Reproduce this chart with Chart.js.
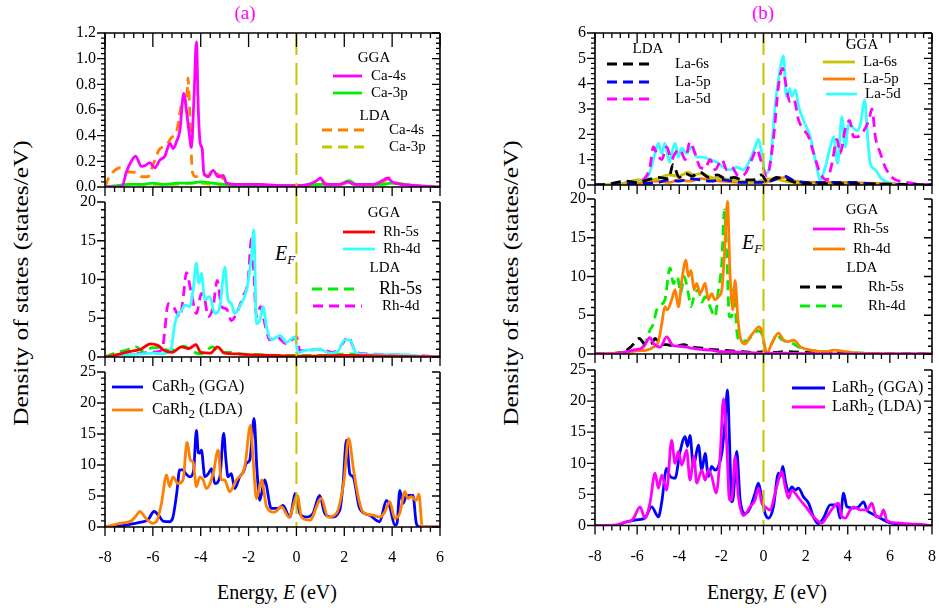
<!DOCTYPE html>
<html>
<head>
<meta charset="utf-8">
<script src="https://cdn.jsdelivr.net/npm/chart.js@4.4.1/dist/chart.umd.min.js"></script>
<style>
body { margin: 0; width: 939px; height: 615px; background: #fff; position: relative; overflow: hidden; font-family: 'Liberation Serif', serif; }
canvas { position: absolute; }
.t { position: absolute; white-space: nowrap; color: #000; transform: translate(-50%, -50%); }
.t sub { font-size: 0.65em; vertical-align: -0.35em; }
.yt { transform: translate(-50%, -50%) rotate(-90deg) scaleX(1.27); }
</style>
</head>
<body>
<div class="t" style="left:245px;top:13px;font-size:19px;color:#ff00ff">(a)</div>
<div class="t" style="left:763px;top:13px;font-size:19px;color:#ff00ff">(b)</div>
<div class="t" style="left:277px;top:592px;font-size:20px">Energy, <i>E</i> (eV)</div>
<div class="t" style="left:767px;top:592px;font-size:20px">Energy, <i>E</i> (eV)</div>
<div class="t yt" style="left:21px;top:283px;font-size:20px">Density of states (states/eV)</div>
<div class="t yt" style="left:511px;top:283px;font-size:20px">Density of states (states/eV)</div>
<div class="t" style="left:285px;top:255px;font-size:20px"><i>E<sub>F</sub></i></div>
<div class="t" style="left:752px;top:244px;font-size:20px"><i>E<sub>F</sub></i></div>
<script>
// tick labels
const energyTicksA = [-8, -6, -4, -2, 0, 2, 4, 6];
const energyTicksB = [-8, -6, -4, -2, 0, 2, 4, 6, 8];
const dosTicksCa = [0, 0.2, 0.4, 0.6, 0.8, 1.0, 1.2];
const dosTicksLa = [0, 1, 2, 3, 4, 5, 6];
const dosTicksRh = [0, 5, 10, 15, 20];
const dosTicksTot = [0, 5, 10, 15, 20, 25];

// (a) CaRh2 : Ca partial DOS
const ca4sGGA = [[-8,0],[-7.3,0],[-7.1,0.12],[-6.9,0.2],[-6.72,0.24],[-6.48,0.16],[-6.3,0.17],[-6.13,0.19],[-5.92,0.15],[-5.71,0.21],[-5.5,0.24],[-5.29,0.34],[-5.15,0.3],[-5.0,0.36],[-4.87,0.44],[-4.71,0.73],[-4.6,0.6],[-4.5,0.45],[-4.39,0.31],[-4.28,0.7],[-4.18,1.13],[-4.1,0.6],[-4.02,0.34],[-3.94,0.3],[-3.87,0.11],[-3.69,0.08],[-3.48,0.13],[-3.27,0.08],[-3.06,0.09],[-2.92,0.03],[-2.4,0.02],[-1.5,0.02],[-0.5,0.01],[0,0.01],[0.5,0.02],[0.85,0.05],[1.0,0.07],[1.2,0.02],[1.8,0.02],[2.15,0.04],[2.4,0.02],[3.2,0.02],[3.6,0.05],[3.8,0.07],[4.0,0.04],[4.4,0.02],[5,0.01],[6,0]];
const ca3pGGA = [[-8,0],[-7.5,0.01],[-7,0.02],[-6.5,0.02],[-6,0.03],[-5.5,0.02],[-5,0.03],[-4.5,0.03],[-4,0.04],[-3.5,0.03],[-3,0.02],[-2.5,0.01],[-1,0.01],[0,0.01],[1,0.02],[1.8,0.02],[2.2,0.05],[2.5,0.02],[3.5,0.02],[4,0.03],[5,0.01],[6,0]];
const ca4sLDA = [[-8,0],[-7.9,0.05],[-7.7,0.11],[-7.35,0.15],[-7.05,0.12],[-6.7,0.11],[-6.45,0.08],[-6.2,0.08],[-6.0,0.17],[-5.7,0.3],[-5.45,0.32],[-5.25,0.38],[-5.0,0.44],[-4.85,0.6],[-4.7,0.7],[-4.6,0.65],[-4.53,0.85],[-4.45,0.55],[-4.35,0.12],[-4.2,0.08],[-4.0,0.1],[-3.7,0.09],[-3.5,0.13],[-3.3,0.1],[-3.1,0.07],[-2.8,0.02],[-1,0.01],[0,0.01],[0.6,0.02],[1.0,0.06],[1.3,0.02],[1.9,0.02],[2.2,0.05],[2.5,0.02],[3.4,0.02],[3.9,0.07],[4.2,0.03],[5,0.01],[6,0]];
const ca3pLDA = [[-8,0],[-7.5,0.01],[-7,0.02],[-6,0.02],[-5,0.02],[-4.5,0.03],[-4,0.03],[-3.5,0.02],[-3,0.02],[-2,0.01],[0,0.01],[1,0.02],[1.9,0.02],[2.2,0.04],[2.5,0.02],[3.5,0.02],[4,0.03],[5,0.01],[6,0]];

// (a) Rh partial DOS
const rh5sGGA_A = [[-8,0],[-7.5,0.3],[-7,0.7],[-6.5,1.0],[-6.1,1.7],[-5.8,1.5],[-5.5,0.8],[-5.2,0.6],[-4.8,1.3],[-4.5,1.1],[-4.2,1.6],[-4.0,0.6],[-3.6,0.5],[-3.3,1.3],[-3.0,0.5],[-2.5,0.4],[-2,0.3],[-1,0.2],[0,0.1],[2,0.2],[4,0.1],[6,0]];
const rh4dGGA_A = [[-8,0],[-7.5,0.2],[-7,0.3],[-6.5,0.4],[-6,0.5],[-5.6,0.4],[-5.43,0.5],[-5.25,0.9],[-5.08,4.3],[-4.94,5.6],[-4.8,6.0],[-4.66,6.7],[-4.46,6.5],[-4.32,8.6],[-4.18,12.1],[-4.08,9.5],[-3.97,10.8],[-3.83,7.4],[-3.62,7.8],[-3.41,5.6],[-3.2,6.5],[-2.99,11.6],[-2.86,7.4],[-2.72,6.9],[-2.58,5.6],[-2.37,6.5],[-2.09,8.6],[-1.88,12.9],[-1.78,16.4],[-1.67,4.3],[-1.53,4.7],[-1.39,6.5],[-1.25,3.9],[-1.04,2.2],[-0.69,2.8],[-0.42,1.9],[-0.07,2.6],[0.07,0.5],[0.3,0.8],[0.56,0.9],[0.97,1.0],[1.39,0.5],[1.75,0.8],[2.02,2.2],[2.23,2.2],[2.5,0.5],[3.2,0.3],[4.5,0.3],[5.2,0.1],[6,0]];
const rh5sLDA_A = [[-8,0],[-7.5,0.6],[-7.1,0.9],[-6.7,1.3],[-6.4,0.7],[-6,1.2],[-5.6,1.1],[-5.3,0.8],[-5,1.0],[-4.7,1.4],[-4.4,0.8],[-4,0.4],[-3.5,1.3],[-3.2,0.6],[-2.8,0.6],[-2.3,0.4],[-1.5,0.3],[-0.5,0.2],[1,0.2],[2.2,0.4],[3,0.2],[6,0]];
const rh4dLDA_A = [[-8,0],[-7.5,0.2],[-7,0.4],[-6.5,0.5],[-6.1,0.6],[-5.8,0.7],[-5.6,1.0],[-5.5,3.5],[-5.36,6.9],[-5.15,6.5],[-4.87,5.2],[-4.72,8.0],[-4.6,10.9],[-4.39,8.2],[-4.18,5.6],[-3.97,8.2],[-3.83,7.4],[-3.69,5.2],[-3.48,6.5],[-3.31,9.9],[-3.13,6.5],[-2.92,6.2],[-2.72,4.7],[-2.51,5.6],[-2.23,7.8],[-2.02,9.9],[-1.88,15.3],[-1.78,10.8],[-1.67,5.2],[-1.5,6.5],[-1.32,4.3],[-1.11,2.2],[-0.83,2.6],[-0.42,1.7],[0,2.6],[0.15,0.8],[0.5,0.9],[1.0,1.0],[1.5,0.6],[1.9,1.6],[2.15,2.6],[2.5,0.6],[3.0,0.4],[4.0,0.3],[5.0,0.2],[6,0]];

// (a) total DOS
const caRh2GGA = [[-8,0],[-7.5,0.1],[-7,0.4],[-6.6,0.7],[-6.2,1.2],[-5.95,2.5],[-5.75,1.8],[-5.55,0.9],[-5.3,0.85],[-5.16,1.6],[-5.0,5.5],[-4.88,9.2],[-4.74,9.2],[-4.6,8.5],[-4.46,8.1],[-4.3,9],[-4.18,15.6],[-4.1,12],[-4.04,11.9],[-3.97,12.4],[-3.83,8.1],[-3.68,8.6],[-3.55,9.4],[-3.41,7.0],[-3.2,8.1],[-3.04,15.1],[-2.95,11],[-2.86,8.1],[-2.72,8.6],[-2.58,6.2],[-2.37,8.1],[-2.2,9.0],[-2.09,10.3],[-1.95,10.8],[-1.77,17.5],[-1.65,9.2],[-1.53,4.3],[-1.33,7.6],[-1.05,3.0],[-0.77,3.0],[-0.56,3.5],[-0.28,1.6],[-0.04,5.4],[0.14,2.2],[0.42,1.6],[0.69,2.2],[0.97,5.1],[1.18,2.2],[1.46,1.6],[1.81,2.7],[1.95,7],[2.09,14.0],[2.23,8.6],[2.37,8.1],[2.64,3.0],[3.06,1.9],[3.48,0.85],[3.76,4.3],[3.9,3.3],[4.11,0.3],[4.2,0.5],[4.32,5.9],[4.46,3.8],[4.6,5.1],[4.87,5.1],[5.01,0.6],[5.15,0],[6,0]];
const caRh2LDA = [[-8,0],[-7.6,0.4],[-7.38,0.6],[-6.9,1.0],[-6.7,1.8],[-6.55,2.5],[-6.27,1.3],[-6.0,0.6],[-5.85,0.85],[-5.64,3.8],[-5.43,8.4],[-5.3,6.5],[-5.16,8.1],[-4.95,7.0],[-4.74,7.6],[-4.57,13.7],[-4.43,10.8],[-4.32,10.5],[-4.18,6.5],[-4.04,8.1],[-3.9,7.6],[-3.76,6.2],[-3.48,8.6],[-3.27,12.4],[-3.14,7.6],[-3.0,7.6],[-2.79,5.7],[-2.51,7.6],[-2.16,9.7],[-1.92,16.4],[-1.81,10.8],[-1.67,4.6],[-1.46,7.6],[-1.25,3.3],[-0.91,2.4],[-0.63,3.3],[-0.31,1.6],[0.04,5.1],[0.21,1.6],[0.56,1.1],[1.04,4.6],[1.32,1.6],[1.67,2.2],[1.99,7.6],[2.18,14.3],[2.39,9.2],[2.57,5.1],[2.78,2.4],[3.2,1.9],[3.48,1.6],[3.69,2.4],[3.9,4.1],[4.11,1.4],[4.32,2.2],[4.53,5.7],[4.66,4.6],[4.8,4.9],[5.01,4.3],[5.12,5.3],[5.26,0],[6,0]];

// (b) LaRh2 : La partial DOS
const la6sLDA = [[-8,0],[-7.5,0.02],[-6.5,0.15],[-6,0.1],[-5.5,0.2],[-5,0.3],[-4.5,0.25],[-4.3,0.8],[-4.0,0.3],[-3.7,0.45],[-3.4,0.35],[-3.0,0.5],[-2.6,0.3],[-2.2,0.4],[-1.8,0.25],[-1.4,0.3],[-1.0,0.2],[-0.5,0.2],[-0.1,0.4],[0.2,0.1],[0.6,0.3],[1.0,0.25],[1.5,0.1],[2,0.05],[4,0.05],[8,0]];
const la5pLDA = [[-8,0],[-7,0],[-6,0.05],[-5,0.1],[-4.5,0.2],[-4,0.15],[-3.5,0.25],[-3,0.2],[-2.5,0.15],[-2,0.2],[-1,0.1],[0,0.1],[0.5,0.2],[1,0.35],[1.5,0.15],[2.5,0.1],[3.5,0.1],[4.5,0.1],[5,0.05],[8,0]];
const la5dLDA = [[-8,0],[-7,0],[-6.5,0.05],[-6,0.1],[-5.6,0.3],[-5.39,0.7],[-5.23,1.5],[-5.07,1.25],[-4.83,1.0],[-4.6,1.5],[-4.36,1.0],[-4.2,1.25],[-3.96,1.4],[-3.72,1.0],[-3.49,1.7],[-3.25,1.25],[-3.01,0.7],[-2.77,0.65],[-2.54,1.0],[-2.3,0.6],[-1.98,1.0],[-1.74,0.6],[-1.51,0.7],[-1.19,0.35],[-0.87,0.45],[-0.56,1.0],[-0.32,1.4],[-0.08,0.85],[0.16,0.35],[0.48,1.9],[0.71,3.9],[0.9,4.6],[1.08,3.9],[1.24,3.3],[1.43,3.4],[1.67,2.55],[1.9,2.2],[2.14,1.9],[2.38,1.25],[2.7,0.45],[3.01,0.2],[3.25,0.85],[3.49,1.8],[3.64,1.25],[3.88,2.2],[4.09,2.55],[4.28,1.9],[4.44,1.9],[4.68,2.05],[5.0,2.55],[5.15,3.0],[5.31,1.9],[5.55,1.25],[5.78,0.7],[6.1,0.3],[6.8,0.1],[8,0]];
const la6sGGA = [[-8,0],[-7,0.02],[-6.5,0.1],[-6,0.2],[-5.5,0.2],[-5,0.25],[-4.5,0.4],[-4.0,0.35],[-3.6,0.5],[-3.3,0.4],[-3,0.45],[-2.5,0.3],[-2,0.25],[-1.5,0.2],[-1,0.15],[-0.5,0.1],[0,0.2],[0.5,0.25],[1,0.15],[2,0.05],[8,0]];
const la5pGGA = [[-8,0],[-7,0],[-6,0.05],[-5,0.15],[-4.5,0.1],[-4,0.2],[-3.5,0.15],[-3,0.25],[-2.5,0.2],[-2,0.15],[-1,0.1],[0,0.1],[0.5,0.2],[1,0.3],[1.5,0.15],[2.5,0.1],[3.5,0.1],[4.5,0.08],[8,0]];
const la5dGGA = [[-8,0],[-7,0],[-6.5,0.05],[-6,0.1],[-5.6,0.2],[-5.4,0.5],[-5.15,1.25],[-4.99,1.65],[-4.83,1.25],[-4.68,1.65],[-4.47,0.9],[-4.36,1.25],[-4.2,1.65],[-4.04,1.1],[-3.88,1.45],[-3.65,1.25],[-3.41,1.5],[-3.17,1.1],[-2.85,1.1],[-2.54,1.0],[-2.22,0.9],[-1.9,0.7],[-1.59,0.6],[-1.27,0.7],[-0.95,0.6],[-0.64,1.0],[-0.4,1.5],[-0.24,1.8],[-0.08,1.25],[0.08,0.45],[0.32,0.85],[0.56,3.2],[0.71,4.15],[0.95,5.1],[1.08,3.5],[1.24,3.8],[1.35,3.5],[1.51,3.75],[1.67,3.1],[1.9,2.55],[2.22,1.9],[2.46,1.0],[2.7,0.2],[2.93,0.7],[3.17,1.5],[3.33,1.9],[3.52,0.85],[3.72,2.7],[3.88,1.5],[4.04,2.4],[4.2,2.3],[4.44,2.15],[4.6,2.4],[4.8,3.35],[4.96,1.7],[5.07,0.85],[5.31,0.6],[5.55,0.3],[6.18,0.05],[8,0]];

// (b) Rh partial DOS
const rh5sGGA_B = [[-8,0],[-7,0.05],[-6.5,0.3],[-6.2,0.5],[-5.7,0.9],[-5.4,2.1],[-5.2,1.3],[-4.9,0.9],[-4.6,2.2],[-4.3,1.1],[-4.0,1.0],[-3.5,0.8],[-3.0,0.6],[-2.5,0.5],[-2,0.3],[-1.5,0.3],[-1,0.2],[0,0.1],[1,0.1],[2,0.05],[4,0],[8,0]];
const rh4dGGA_B = [[-8,0],[-7,0.1],[-6.5,0.2],[-6,0.4],[-5.55,0.5],[-5.23,0.9],[-4.99,1.6],[-4.83,3.9],[-4.68,6.1],[-4.57,5.7],[-4.36,7.0],[-4.2,8.3],[-4.04,6.1],[-3.88,9.5],[-3.68,12.1],[-3.57,10.0],[-3.44,10.8],[-3.3,8.3],[-3.17,9.1],[-3.01,7.8],[-2.77,9.1],[-2.62,7.0],[-2.46,7.8],[-2.3,7.0],[-2.14,7.4],[-1.98,8.3],[-1.86,12.6],[-1.71,19.7],[-1.59,10.4],[-1.46,5.7],[-1.35,9.5],[-1.22,4.8],[-1.11,2.2],[-0.87,1.3],[-0.64,2.2],[-0.4,3.0],[-0.24,3.5],[-0.08,3.0],[0.0,1.8],[0.16,0.1],[0.4,1.4],[0.71,2.7],[0.95,1.8],[1.19,1.6],[1.43,1.8],[1.74,0.95],[2.22,0.5],[3.01,0.3],[3.33,0.5],[3.96,0.3],[4.6,0.1],[8,0]];
const rh5sLDA_B = [[-8,0],[-7,0.1],[-6.5,0.5],[-6.2,1.2],[-5.9,2.0],[-5.6,1.2],[-5.3,1.4],[-5.15,2.0],[-4.9,1.3],[-4.6,1.2],[-4.2,1.0],[-3.8,1.2],[-3.4,0.9],[-3,0.8],[-2.5,0.6],[-2,0.5],[-1.5,0.4],[-1,0.3],[-0.5,0.2],[0,0.3],[0.5,0.2],[1,0.3],[2,0.2],[3,0.1],[4,0.1],[5,0],[8,0]];
const rh4dLDA_B = [[-8,0],[-6.5,0.2],[-6,0.6],[-5.63,1.3],[-5.39,3.1],[-5.23,3.9],[-5.07,5.7],[-4.91,6.3],[-4.68,7.0],[-4.44,11.1],[-4.28,9.1],[-4.09,10.0],[-3.93,7.8],[-3.77,10.0],[-3.57,7.8],[-3.44,6.1],[-3.3,7.4],[-3.09,8.3],[-2.93,6.7],[-2.77,7.4],[-2.54,6.1],[-2.3,4.8],[-2.14,8.3],[-1.98,11.7],[-1.86,18.6],[-1.74,12.6],[-1.62,4.8],[-1.51,4.8],[-1.4,8.7],[-1.27,3.0],[-1.11,1.7],[-0.79,1.7],[-0.48,2.6],[-0.24,3.0],[-0.08,2.6],[0.1,0.5],[0.4,1.4],[0.65,2.6],[0.8,2.0],[1.0,1.7],[1.3,1.5],[1.6,1.0],[2.0,0.6],[2.5,0.4],[3,0.3],[4,0.2],[5,0.1],[6,0],[8,0]];

// (b) total DOS
const laRh2GGA = [[-8,0],[-7,0],[-6.5,0.6],[-6.02,0.9],[-5.63,1.2],[-5.31,3.0],[-4.99,1.4],[-4.83,3.8],[-4.6,9.2],[-4.44,7.9],[-4.2,7.6],[-3.96,11.9],[-3.72,14.3],[-3.61,12.7],[-3.49,14.5],[-3.33,9.5],[-3.09,12.9],[-2.93,8.9],[-2.77,11.6],[-2.62,7.9],[-2.46,9.5],[-2.3,8.9],[-2.14,9.5],[-1.98,11.6],[-1.82,17.0],[-1.71,21.8],[-1.62,14.3],[-1.51,3.8],[-1.43,4.6],[-1.27,11.9],[-1.11,4.1],[-0.87,1.9],[-0.64,2.8],[-0.4,5.2],[-0.24,6.8],[-0.08,4.4],[0.08,1.9],[0.24,1.2],[0.47,3.0],[0.71,8.4],[0.79,7.9],[0.92,9.5],[1.03,7.3],[1.19,5.4],[1.35,6.2],[1.5,5.7],[1.66,6.0],[1.9,4.6],[2.14,3.6],[2.37,1.4],[2.61,0.3],[2.85,1.2],[3.17,3.3],[3.48,3.3],[3.64,1.2],[3.8,5.2],[3.96,3.0],[4.28,2.8],[4.51,3.0],[4.75,3.8],[4.91,2.5],[5.15,1.9],[5.54,1.2],[6.02,0.4],[6.97,0.1],[7.76,0],[8,0]];
const laRh2LDA = [[-8,0],[-7,0.1],[-6.6,0.5],[-6.2,1.0],[-5.86,3.0],[-5.63,1.2],[-5.39,3.6],[-5.15,8.4],[-4.99,6.0],[-4.83,8.1],[-4.6,5.7],[-4.36,13.7],[-4.2,10.0],[-4.04,11.9],[-3.88,9.7],[-3.65,12.1],[-3.49,7.3],[-3.3,11.1],[-3.17,6.8],[-2.93,8.9],[-2.77,7.3],[-2.62,8.9],[-2.46,7.9],[-2.25,5.2],[-2.06,11.1],[-1.9,20.4],[-1.74,12.7],[-1.62,4.1],[-1.51,4.1],[-1.35,11.1],[-1.19,4.6],[-0.95,1.6],[-0.64,3.0],[-0.4,4.1],[-0.24,6.0],[-0.08,3.6],[0.08,3.0],[0.32,2.5],[0.55,5.2],[0.71,7.3],[0.87,8.7],[1.03,6.2],[1.19,4.4],[1.35,5.7],[1.5,5.2],[1.74,4.1],[2.06,2.8],[2.37,1.4],[2.77,0.4],[3.01,1.4],[3.33,3.0],[3.56,3.6],[3.72,1.4],[3.88,1.2],[4.12,2.5],[4.28,3.0],[4.59,2.5],[4.91,2.5],[5.15,3.6],[5.35,1.4],[5.54,1.4],[5.7,2.5],[5.86,0.8],[6.34,0.4],[7.29,0.2],[8,0]];

const C = { magenta: '#ff00ff', green: '#00ee00', orange: '#ff8000', olive: '#c4c400', red: '#ff0000', cyan: '#33ffff', blue: '#0000ff', black: '#000000' };
const fermiColor = '#c8c400';

function line(label, data, color, dashed) {
  return { label, data, borderColor: color, borderWidth: 2.8, borderDash: dashed ? [10, 6] : [],
    pointRadius: 0, cubicInterpolationMode: 'monotone', fill: false };
}

const dosFrame = {
  id: 'dosFrame',
  afterDatasetsDraw(chart, args, o) {
    const ctx = chart.ctx, a = chart.chartArea, xs = chart.scales.x, ys = chart.scales.y;
    ctx.save();
    // Fermi level
    const xf = xs.getPixelForValue(0);
    ctx.strokeStyle = fermiColor; ctx.lineWidth = 2; ctx.setLineDash([22, 8]);
    ctx.beginPath(); ctx.moveTo(xf, a.top); ctx.lineTo(xf, a.bottom + o.gapBelow); ctx.stroke();
    ctx.setLineDash([]);
    // frame
    ctx.strokeStyle = '#000'; ctx.lineWidth = 1.6;
    ctx.beginPath();
    if (o.topAxis) { ctx.moveTo(a.right, a.top); ctx.lineTo(a.left, a.top); } else ctx.moveTo(a.left, a.top);
    ctx.lineTo(a.left, a.bottom); ctx.lineTo(a.right, a.bottom); ctx.lineTo(a.right, a.top);
    ctx.stroke();
    // ticks
    ctx.lineWidth = 1.3;
    ctx.beginPath();
    const nx = Math.round((xs.max - xs.min) / o.xMinor);
    for (let i = 0; i <= nx; i++) {
      const v = xs.min + i * o.xMinor, px = xs.getPixelForValue(v);
      const major = Math.abs(v / 2 - Math.round(v / 2)) < 1e-6;
      const len = major ? 9 : 5;
      ctx.moveTo(px, a.bottom); ctx.lineTo(px, a.bottom + len);
      if (o.topAxis) { ctx.moveTo(px, a.top); ctx.lineTo(px, a.top + (major ? o.topMajor : 5)); }
    }
    const ny = Math.round((ys.max - ys.min) / o.yMinor);
    for (let i = 0; i <= ny; i++) {
      const v = ys.min + i * o.yMinor, py = ys.getPixelForValue(v);
      const len = Math.abs(v / o.yMajor - Math.round(v / o.yMajor)) < 1e-6 ? 8 : 4;
      ctx.moveTo(a.left, py); ctx.lineTo(a.left - len, py);
      ctx.moveTo(a.right, py); ctx.lineTo(a.right - len, py);
    }
    ctx.stroke();
    // tick labels
    ctx.fillStyle = '#000';
    ctx.font = '16px "Liberation Serif"';
    ctx.textAlign = 'right'; ctx.textBaseline = 'middle';
    o.yLabels.forEach(v => ctx.fillText(v.toFixed(o.yDec), a.left - 9, ys.getPixelForValue(v)));
    if (o.xLabels) {
      ctx.textAlign = 'center';
      o.xLabels.forEach(v => ctx.fillText(String(v), xs.getPixelForValue(v), a.bottom + 31));
    }
    // legend
    const ds = chart.data.datasets;
    o.legend.forEach(it => {
      const x0 = o.offX, y0 = o.offY;
      ctx.textBaseline = 'middle';
      if (it.head) {
        ctx.font = '15px "Liberation Serif"'; ctx.textAlign = 'center';
        ctx.fillText(it.head, it.x - x0, it.y - y0);
        return;
      }
      const d = ds[it.ds];
      ctx.strokeStyle = d.borderColor; ctx.lineWidth = d.borderWidth; ctx.setLineDash(d.borderDash);
      ctx.beginPath(); ctx.moveTo(it.x1 - x0, it.y - y0); ctx.lineTo(it.x2 - x0, it.y - y0); ctx.stroke();
      ctx.setLineDash([]);
      const size = it.size || 15;
      ctx.textAlign = 'left';
      let tx = it.tx - x0;
      d.label.split(/(_\d)/).forEach(part => {
        if (part.startsWith('_')) {
          ctx.font = Math.round(size * 0.8) + 'px "Liberation Serif"';
          ctx.fillText(part.slice(1), tx, it.y - y0 + size * 0.3);
          tx += ctx.measureText(part.slice(1)).width;
        } else {
          ctx.font = size + 'px "Liberation Serif"';
          ctx.fillText(part, tx, it.y - y0);
          tx += ctx.measureText(part).width;
        }
      });
    });
    ctx.restore();
  }
};

function makePlot(box, xr, yr, datasets, frame) {
  const padL = 100, padT = 10, padR = 12, padB = frame.xLabels ? 48 : 18;
  const cv = document.createElement('canvas');
  cv.width = Math.round(box.w + padL + padR);
  cv.height = Math.round(box.h + padT + padB);
  const left = box.l - padL, top = box.t - padT;
  cv.style.left = left + 'px'; cv.style.top = top + 'px';
  document.body.appendChild(cv);
  frame.offX = left; frame.offY = top;
  new Chart(cv, {
    type: 'line',
    data: { datasets },
    options: {
      responsive: false, animation: false, devicePixelRatio: 1,
      layout: { padding: { left: padL, top: padT, right: cv.width - padL - box.w, bottom: cv.height - padT - box.h } },
      scales: {
        x: { type: 'linear', min: xr[0], max: xr[1], display: false },
        y: { type: 'linear', min: yr[0], max: yr[1], display: false }
      },
      plugins: { legend: { display: false }, tooltip: { enabled: false }, dosFrame: frame }
    },
    plugins: [dosFrame]
  });
}

Chart.defaults.font.family = 'Liberation Serif';

// ---- panel (a)
makePlot({ l: 105, t: 33, w: 335, h: 154 }, [-8, 6], [0, 1.2], [
  line('Ca-4s', ca4sGGA, C.magenta),
  line('Ca-3p', ca3pGGA, C.green),
  line('Ca-4s', ca4sLDA, C.orange, true),
  line('Ca-3p', ca3pLDA, C.olive, true)
], { topAxis: true, topMajor: 14, gapBelow: 15, xMinor: 0.4, yMinor: 0.04, yMajor: 0.2, yLabels: dosTicksCa, yDec: 1,
  legend: [
    { head: 'GGA', x: 374, y: 58 },
    { ds: 0, x1: 333, x2: 362, y: 76, tx: 371 },
    { ds: 1, x1: 333, x2: 362, y: 93, tx: 371 },
    { head: 'LDA', x: 375, y: 116 },
    { ds: 2, x1: 322, x2: 368, y: 130, tx: 389 },
    { ds: 3, x1: 322, x2: 368, y: 147, tx: 389 }
  ] });

makePlot({ l: 105, t: 202, w: 335, h: 155 }, [-8, 6], [0, 20], [
  line('Rh-5s', rh5sGGA_A, C.red),
  line('Rh-4d', rh4dGGA_A, C.cyan),
  line('Rh-5s', rh5sLDA_A, C.green, true),
  line('Rh-4d', rh4dLDA_A, C.magenta, true)
], { topAxis: false, gapBelow: 15, xMinor: 0.4, yMinor: 1, yMajor: 5, yLabels: dosTicksRh, yDec: 0,
  legend: [
    { head: 'GGA', x: 384, y: 213 },
    { ds: 0, x1: 343, x2: 375, y: 232, tx: 383 },
    { ds: 1, x1: 343, x2: 375, y: 249, tx: 383 },
    { head: 'LDA', x: 385, y: 268 },
    { ds: 2, x1: 312, x2: 360, y: 289, tx: 379, size: 18 },
    { ds: 3, x1: 313, x2: 362, y: 306, tx: 382 }
  ] });

makePlot({ l: 105, t: 372, w: 335, h: 155 }, [-8, 6], [0, 25], [
  line('CaRh_2 (LDA)', caRh2LDA, C.orange),
  line('CaRh_2 (GGA)', caRh2GGA, C.blue)
], { topAxis: false, gapBelow: 0, xMinor: 0.4, yMinor: 1, yMajor: 5, yLabels: dosTicksTot, yDec: 0, xLabels: energyTicksA,
  legend: [
    { ds: 1, x1: 112, x2: 143, y: 387, tx: 152, size: 16 },
    { ds: 0, x1: 112, x2: 143, y: 410, tx: 152, size: 16 }
  ] });

// ---- panel (b)
makePlot({ l: 595, t: 33, w: 337, h: 152 }, [-8, 8], [0, 6], [
  line('La-6s', la6sLDA, C.black, true),
  line('La-5p', la5pLDA, C.blue, true),
  line('La-5d', la5dLDA, C.magenta, true),
  line('La-6s', la6sGGA, C.olive),
  line('La-5p', la5pGGA, C.orange),
  line('La-5d', la5dGGA, C.cyan)
], { topAxis: true, topMajor: 10, gapBelow: 14, xMinor: 0.4, yMinor: 0.2, yMajor: 1, yLabels: dosTicksLa, yDec: 0,
  legend: [
    { head: 'LDA', x: 648, y: 49 },
    { ds: 0, x1: 607, x2: 655, y: 64, tx: 675 },
    { ds: 1, x1: 607, x2: 655, y: 82, tx: 675 },
    { ds: 2, x1: 607, x2: 655, y: 99, tx: 675 },
    { head: 'GGA', x: 862, y: 45 },
    { ds: 3, x1: 823, x2: 855, y: 62, tx: 863 },
    { ds: 4, x1: 823, x2: 855, y: 79, tx: 863 },
    { ds: 5, x1: 826, x2: 857, y: 94, tx: 865 }
  ] });

makePlot({ l: 595, t: 199, w: 337, h: 155 }, [-8, 8], [0, 20], [
  line('Rh-5s', rh5sGGA_B, C.magenta),
  line('Rh-4d', rh4dGGA_B, C.orange),
  line('Rh-5s', rh5sLDA_B, C.black, true),
  line('Rh-4d', rh4dLDA_B, C.green, true)
], { topAxis: false, gapBelow: 16, xMinor: 0.4, yMinor: 1, yMajor: 5, yLabels: dosTicksRh, yDec: 0,
  legend: [
    { head: 'GGA', x: 862, y: 210 },
    { ds: 0, x1: 813, x2: 845, y: 229, tx: 853 },
    { ds: 1, x1: 813, x2: 845, y: 249, tx: 853 },
    { head: 'LDA', x: 862, y: 268 },
    { ds: 2, x1: 800, x2: 848, y: 287, tx: 868 },
    { ds: 3, x1: 800, x2: 848, y: 306, tx: 868 }
  ] });

makePlot({ l: 595, t: 370, w: 337, h: 155.5 }, [-8, 8], [0, 25], [
  line('LaRh_2 (LDA)', laRh2LDA, C.magenta),
  line('LaRh_2 (GGA)', laRh2GGA, C.blue)
], { topAxis: false, gapBelow: 0, xMinor: 0.4, yMinor: 1, yMajor: 5, yLabels: dosTicksTot, yDec: 0, xLabels: energyTicksB,
  legend: [
    { ds: 1, x1: 792, x2: 825, y: 388, tx: 832, size: 16 },
    { ds: 0, x1: 792, x2: 825, y: 407, tx: 832, size: 16 }
  ] });
</script>
</body>
</html>
